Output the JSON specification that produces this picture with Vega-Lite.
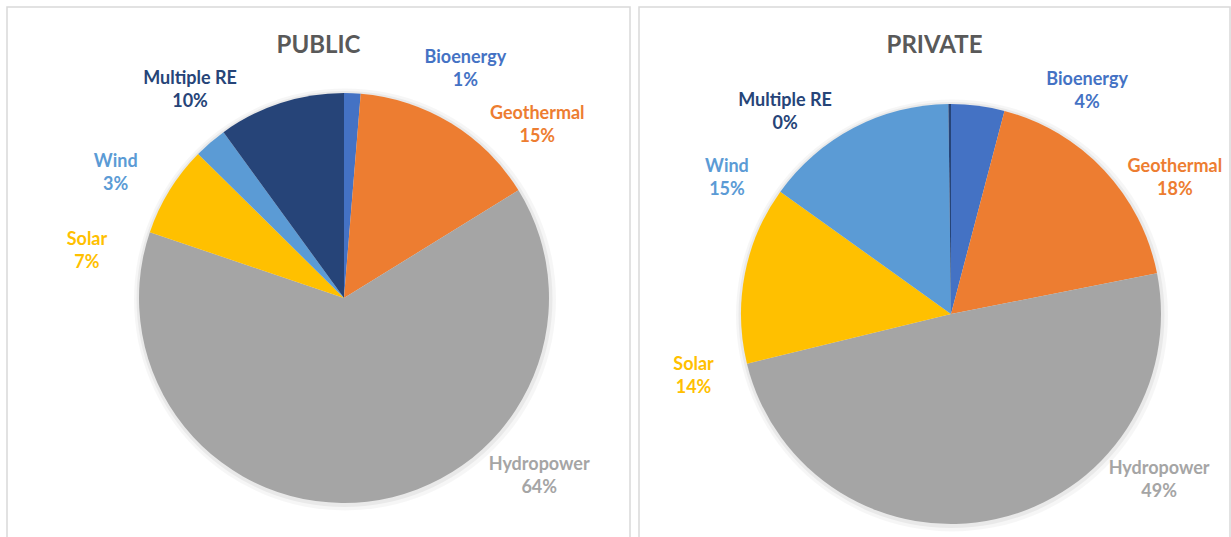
{
  "$schema": "https://vega.github.io/schema/vega-lite/v6.json",
  "padding": {"left": 6, "top": 6, "right": 0, "bottom": 0},
  "autosize": {"type": "pad"},
  "background": "white",
  "datasets": {
    "shares": [
      {"sector": "PUBLIC", "source": "Bioenergy", "share": 0.013, "k": 1},
      {"sector": "PUBLIC", "source": "Geothermal", "share": 0.149, "k": 2},
      {"sector": "PUBLIC", "source": "Hydropower", "share": 0.640, "k": 3},
      {"sector": "PUBLIC", "source": "Solar", "share": 0.072, "k": 4},
      {"sector": "PUBLIC", "source": "Wind", "share": 0.026, "k": 5},
      {"sector": "PUBLIC", "source": "Multiple RE", "share": 0.100, "k": 6},
      {"sector": "PRIVATE", "source": "Bioenergy", "share": 0.041, "k": 1},
      {"sector": "PRIVATE", "source": "Geothermal", "share": 0.178, "k": 2},
      {"sector": "PRIVATE", "source": "Hydropower", "share": 0.493, "k": 3},
      {"sector": "PRIVATE", "source": "Solar", "share": 0.137, "k": 4},
      {"sector": "PRIVATE", "source": "Wind", "share": 0.149, "k": 5},
      {"sector": "PRIVATE", "source": "Multiple RE", "share": 0.002, "k": 6}
    ]
  },
  "data": {"name": "shares"},
  "spacing": 7,
  "hconcat": [
    {
      "width": 623,
      "height": 582,
      "title": {"text": "PUBLIC", "offset": -52, "frame": "group"},
      "transform": [{"filter": "datum.sector === 'PUBLIC'"}],
      "layer": [
        {
          "transform": [{"aggregate": [{"op": "count", "as": "n"}]}],
          "mark": {"type": "rect", "fillOpacity": 0, "stroke": "#d9d9d9", "strokeWidth": 1.5},
          "encoding": {}
        },
        {
          "transform": [{"aggregate": [{"op": "sum", "field": "share", "as": "total"}]}],
          "mark": {"type": "arc", "outerRadius": 211, "xOffset": 26.5, "yOffset": 1.5, "color": "#000000", "opacity": 0.035},
          "encoding": {"theta": {"field": "total", "type": "quantitative", "scale": {"domain": [0, 1]}}}
        },
        {
          "transform": [{"aggregate": [{"op": "sum", "field": "share", "as": "total"}]}],
          "mark": {"type": "arc", "outerRadius": 208, "xOffset": 26, "yOffset": 1, "color": "#000000", "opacity": 0.05},
          "encoding": {"theta": {"field": "total", "type": "quantitative", "scale": {"domain": [0, 1]}}}
        },
        {
          "mark": {"type": "arc", "outerRadius": 205, "xOffset": 25.5},
          "encoding": {
            "theta": {"field": "share", "type": "quantitative", "stack": true, "scale": {"domain": [0, 1]}},
            "order": {"field": "k", "type": "quantitative"},
            "color": {"field": "source", "type": "nominal", "scale": {"domain": ["Bioenergy", "Geothermal", "Hydropower", "Solar", "Wind", "Multiple RE"], "range": ["#4472C4", "#ED7D31", "#A5A5A5", "#FFC000", "#5B9BD5", "#264478"]}, "legend": null}
          }
        },
        {
          "mark": {"type": "text", "radius": 262, "xOffset": 25.5, "dy": -7.5, "font": "Lato", "fontWeight": "bold", "fontSize": 18},
          "encoding": {
            "text": {"field": "source", "type": "nominal"},
            "order": {"field": "k", "type": "quantitative"},
            "color": {"field": "source", "type": "nominal", "scale": {"domain": ["Bioenergy", "Geothermal", "Hydropower", "Solar", "Wind", "Multiple RE"], "range": ["#4472C4", "#ED7D31", "#A5A5A5", "#FFC000", "#5B9BD5", "#264478"]}, "legend": null},
            "theta": {"field": "share", "type": "quantitative", "stack": true,
              "scale": {"domain": [0, 0.13, 0.48, 0.78, 0.84, 0.89, 0.925, 0.95, 1], "range": [0.4538, 1.0123, 2.2864, 4.4855, 4.9218, 5.2447, 5.2709, 5.6549, 5.6025]}}
          }
        },
        {
          "mark": {"type": "text", "radius": 262, "xOffset": 25.5, "dy": 15.5, "font": "Lato", "fontWeight": "bold", "fontSize": 18},
          "encoding": {
            "text": {"field": "share", "type": "quantitative", "format": ".0%"},
            "order": {"field": "k", "type": "quantitative"},
            "color": {"field": "source", "type": "nominal", "scale": {"domain": ["Bioenergy", "Geothermal", "Hydropower", "Solar", "Wind", "Multiple RE"], "range": ["#4472C4", "#ED7D31", "#A5A5A5", "#FFC000", "#5B9BD5", "#264478"]}, "legend": null},
            "theta": {"field": "share", "type": "quantitative", "stack": true,
              "scale": {"domain": [0, 0.13, 0.48, 0.78, 0.84, 0.89, 0.925, 0.95, 1], "range": [0.4538, 1.0123, 2.2864, 4.4855, 4.9218, 5.2447, 5.2709, 5.6549, 5.6025]}}
          }
        }
      ],
      "resolve": {"scale": {"theta": "independent"}}
    },
    {
      "width": 591,
      "height": 614,
      "title": {"text": "PRIVATE", "offset": -52, "frame": "group"},
      "transform": [{"filter": "datum.sector === 'PRIVATE'"}],
      "layer": [
        {
          "transform": [{"aggregate": [{"op": "count", "as": "n"}]}],
          "mark": {"type": "rect", "fillOpacity": 0, "stroke": "#d9d9d9", "strokeWidth": 1.5},
          "encoding": {}
        },
        {
          "transform": [{"aggregate": [{"op": "sum", "field": "share", "as": "total"}]}],
          "mark": {"type": "arc", "outerRadius": 216, "xOffset": 17.5, "yOffset": 1.5, "color": "#000000", "opacity": 0.035},
          "encoding": {"theta": {"field": "total", "type": "quantitative", "scale": {"domain": [0, 1]}}}
        },
        {
          "transform": [{"aggregate": [{"op": "sum", "field": "share", "as": "total"}]}],
          "mark": {"type": "arc", "outerRadius": 213, "xOffset": 17, "yOffset": 1, "color": "#000000", "opacity": 0.05},
          "encoding": {"theta": {"field": "total", "type": "quantitative", "scale": {"domain": [0, 1]}}}
        },
        {
          "mark": {"type": "arc", "outerRadius": 210, "xOffset": 16.5},
          "encoding": {
            "theta": {"field": "share", "type": "quantitative", "stack": true, "scale": {"domain": [0, 1]}},
            "order": {"field": "k", "type": "quantitative"},
            "color": {"field": "source", "type": "nominal", "scale": {"domain": ["Bioenergy", "Geothermal", "Hydropower", "Solar", "Wind", "Multiple RE"], "range": ["#4472C4", "#ED7D31", "#A5A5A5", "#FFC000", "#5B9BD5", "#264478"]}, "legend": null}
          }
        },
        {
          "mark": {"type": "text", "radius": 264, "xOffset": 16.5, "dy": -7.5, "font": "Lato", "fontWeight": "bold", "fontSize": 18},
          "encoding": {
            "text": {"field": "source", "type": "nominal"},
            "order": {"field": "k", "type": "quantitative"},
            "color": {"field": "source", "type": "nominal", "scale": {"domain": ["Bioenergy", "Geothermal", "Hydropower", "Solar", "Wind", "Multiple RE"], "range": ["#4472C4", "#ED7D31", "#A5A5A5", "#FFC000", "#5B9BD5", "#264478"]}, "legend": null},
            "theta": {"field": "share", "type": "quantitative", "stack": true,
              "scale": {"domain": [0, 0.13, 0.48, 0.78, 0.84, 0.89, 0.925, 0.95, 1], "range": [0.4538, 1.0123, 2.2864, 4.4855, 4.9218, 5.2447, 5.2709, 5.6549, 5.6025]}}
          }
        },
        {
          "mark": {"type": "text", "radius": 264, "xOffset": 16.5, "dy": 15.5, "font": "Lato", "fontWeight": "bold", "fontSize": 18},
          "encoding": {
            "text": {"field": "share", "type": "quantitative", "format": ".0%"},
            "order": {"field": "k", "type": "quantitative"},
            "color": {"field": "source", "type": "nominal", "scale": {"domain": ["Bioenergy", "Geothermal", "Hydropower", "Solar", "Wind", "Multiple RE"], "range": ["#4472C4", "#ED7D31", "#A5A5A5", "#FFC000", "#5B9BD5", "#264478"]}, "legend": null},
            "theta": {"field": "share", "type": "quantitative", "stack": true,
              "scale": {"domain": [0, 0.13, 0.48, 0.78, 0.84, 0.89, 0.925, 0.95, 1], "range": [0.4538, 1.0123, 2.2864, 4.4855, 4.9218, 5.2447, 5.2709, 5.6549, 5.6025]}}
          }
        }
      ],
      "resolve": {"scale": {"theta": "independent"}}
    }
  ],
  "config": {
    "view": {"stroke": "#d9d9d9", "strokeWidth": 1.5},
    "title": {"font": "Lato", "fontSize": 24, "fontWeight": "bold", "color": "#595959"}
  }
}
